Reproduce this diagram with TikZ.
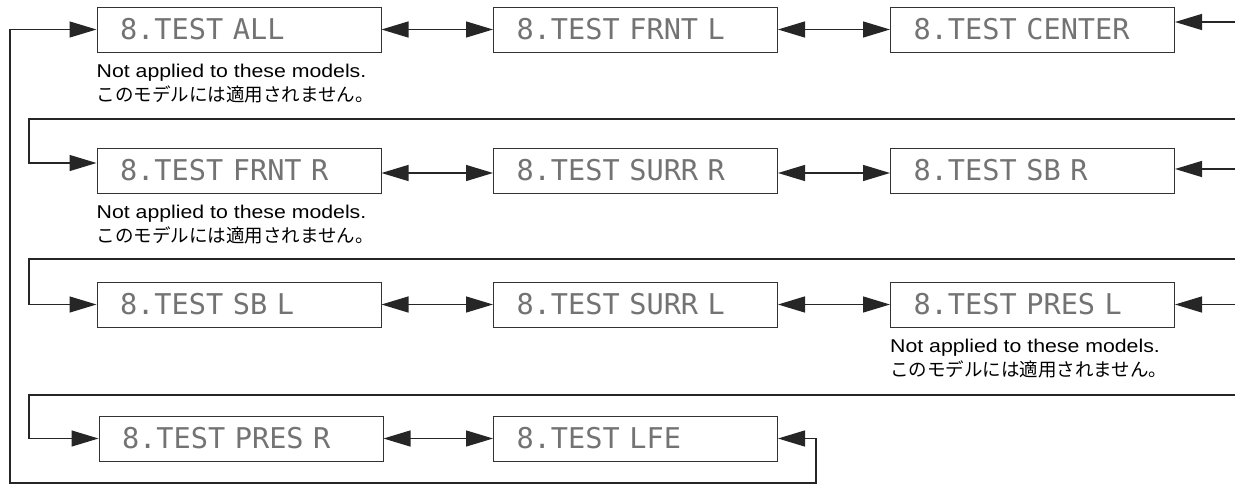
\documentclass[tikz,border=0pt]{standalone}
\usepackage{fontspec}
\usepackage{graphicx}
\usetikzlibrary{arrows.meta}
\setmainfont{Liberation Sans}
\newfontfamily\jpfont{Noto Sans CJK JP}
\newfontfamily\lcdfont{DejaVu Sans Mono}
\begin{document}
\begin{tikzpicture}[x=1pt,y=-1pt,
  box/.style={draw=black!80,line width=1pt,minimum height=45pt,text width=238pt,
    inner xsep=23pt,inner ysep=0pt,align=left,
    font=\lcdfont\fontsize{28.6}{30}\selectfont,text=black!55},
  conn/.style={draw=black!85,line width=1.3pt},
  >={Triangle[length=27pt,width=16pt]},
  noteen/.style={anchor=west,inner sep=0pt,font=\fontsize{18.5}{20}\selectfont},
  notejp/.style={anchor=west,inner sep=0pt,font=\jpfont\fontsize{18.5}{20}\selectfont}]
\useasboundingbox (0,0) rectangle (1235,485);

% boxes
\node[box] (a1) at (239,29.5) {8.TEST ALL};
\node[box] (a2) at (635.5,29.5) {8.TEST FRNT L};
\node[box] (a3) at (1032.5,29.5) {8.TEST CENTER};
\node[box] (b1) at (239,170.5) {8.TEST FRNT R};
\node[box] (b2) at (635.5,170.5) {8.TEST SURR R};
\node[box] (b3) at (1032.5,170.5) {8.TEST SB R};
\node[box] (c1) at (239,304.5) {8.TEST SB L};
\node[box] (c2) at (635.5,304.5) {8.TEST SURR L};
\node[box] (c3) at (1032.5,304.5) {8.TEST PRES L};
\node[box] (d1) at (241,438.5) {8.TEST PRES R};
\node[box] (d2) at (635.5,438.5) {8.TEST LFE};

% notes
\node[noteen] (n1e) at ([yshift=-20pt]a1.south west) {\scalebox{1.15}[1]{Not applied to these models.}};
\node[notejp] (n1j) at ([yshift=-42pt]a1.south west) {このモデルには適用されません。};
\node[noteen] (n2e) at ([yshift=-20pt]b1.south west) {\scalebox{1.15}[1]{Not applied to these models.}};
\node[notejp] (n2j) at ([yshift=-42pt]b1.south west) {このモデルには適用されません。};
\node[noteen] (n3e) at ([yshift=-20pt]c3.south west) {\scalebox{1.15}[1]{Not applied to these models.}};
\node[notejp] (n3j) at ([yshift=-42pt]c3.south west) {このモデルには適用されません。};

% free ends
\coordinate (ra) at (1235,22);
\coordinate (rb) at (1235,169);
\coordinate (rc) at (1235,304.5);
\coordinate (tb) at (1235,119);
\coordinate (kb) at (29,119);
\coordinate (tc) at (1235,259);
\coordinate (kc) at (29,259);
\coordinate (td) at (1235,395);
\coordinate (kd) at (29,395);
\coordinate (o1) at (10,483);
\coordinate (o2) at (816,483);

% row 1
\draw[conn,<->] (a1.east) -- (a2.west);
\draw[conn,<->] (a2.east) -- (a3.west);
\draw[conn,<-] ([yshift=7.5pt]a3.east) -- ([yshift=7.5pt]a3.east -| ra);
% row 2
\draw[conn,->] (tb) -- (kb) |- ([yshift=7.5pt]b1.west);
\draw[conn,<->] ([yshift=-2.5pt]b1.east) -- ([yshift=-2.5pt]b2.west);
\draw[conn,<->] ([yshift=-2.5pt]b2.east) -- ([yshift=-2.5pt]b3.west);
\draw[conn,<-] ([yshift=1.5pt]b3.east) -- ([yshift=1.5pt]b3.east -| rb);
% row 3
\draw[conn,->] (tc) -- (kc) |- (c1.west);
\draw[conn,<->] (c1.east) -- (c2.west);
\draw[conn,<->] (c2.east) -- (c3.west);
\draw[conn,<-] (c3.east) -- (c3.east -| rc);
% row 4
\draw[conn,->] (td) -- (kd) |- (d1.west);
\draw[conn,<->] (d1.east) -- (d2.west);
% outer loop
\draw[conn,<->] (a1.west) -| (o1) -- (o2) |- (d2.east);
\end{tikzpicture}
\end{document}
